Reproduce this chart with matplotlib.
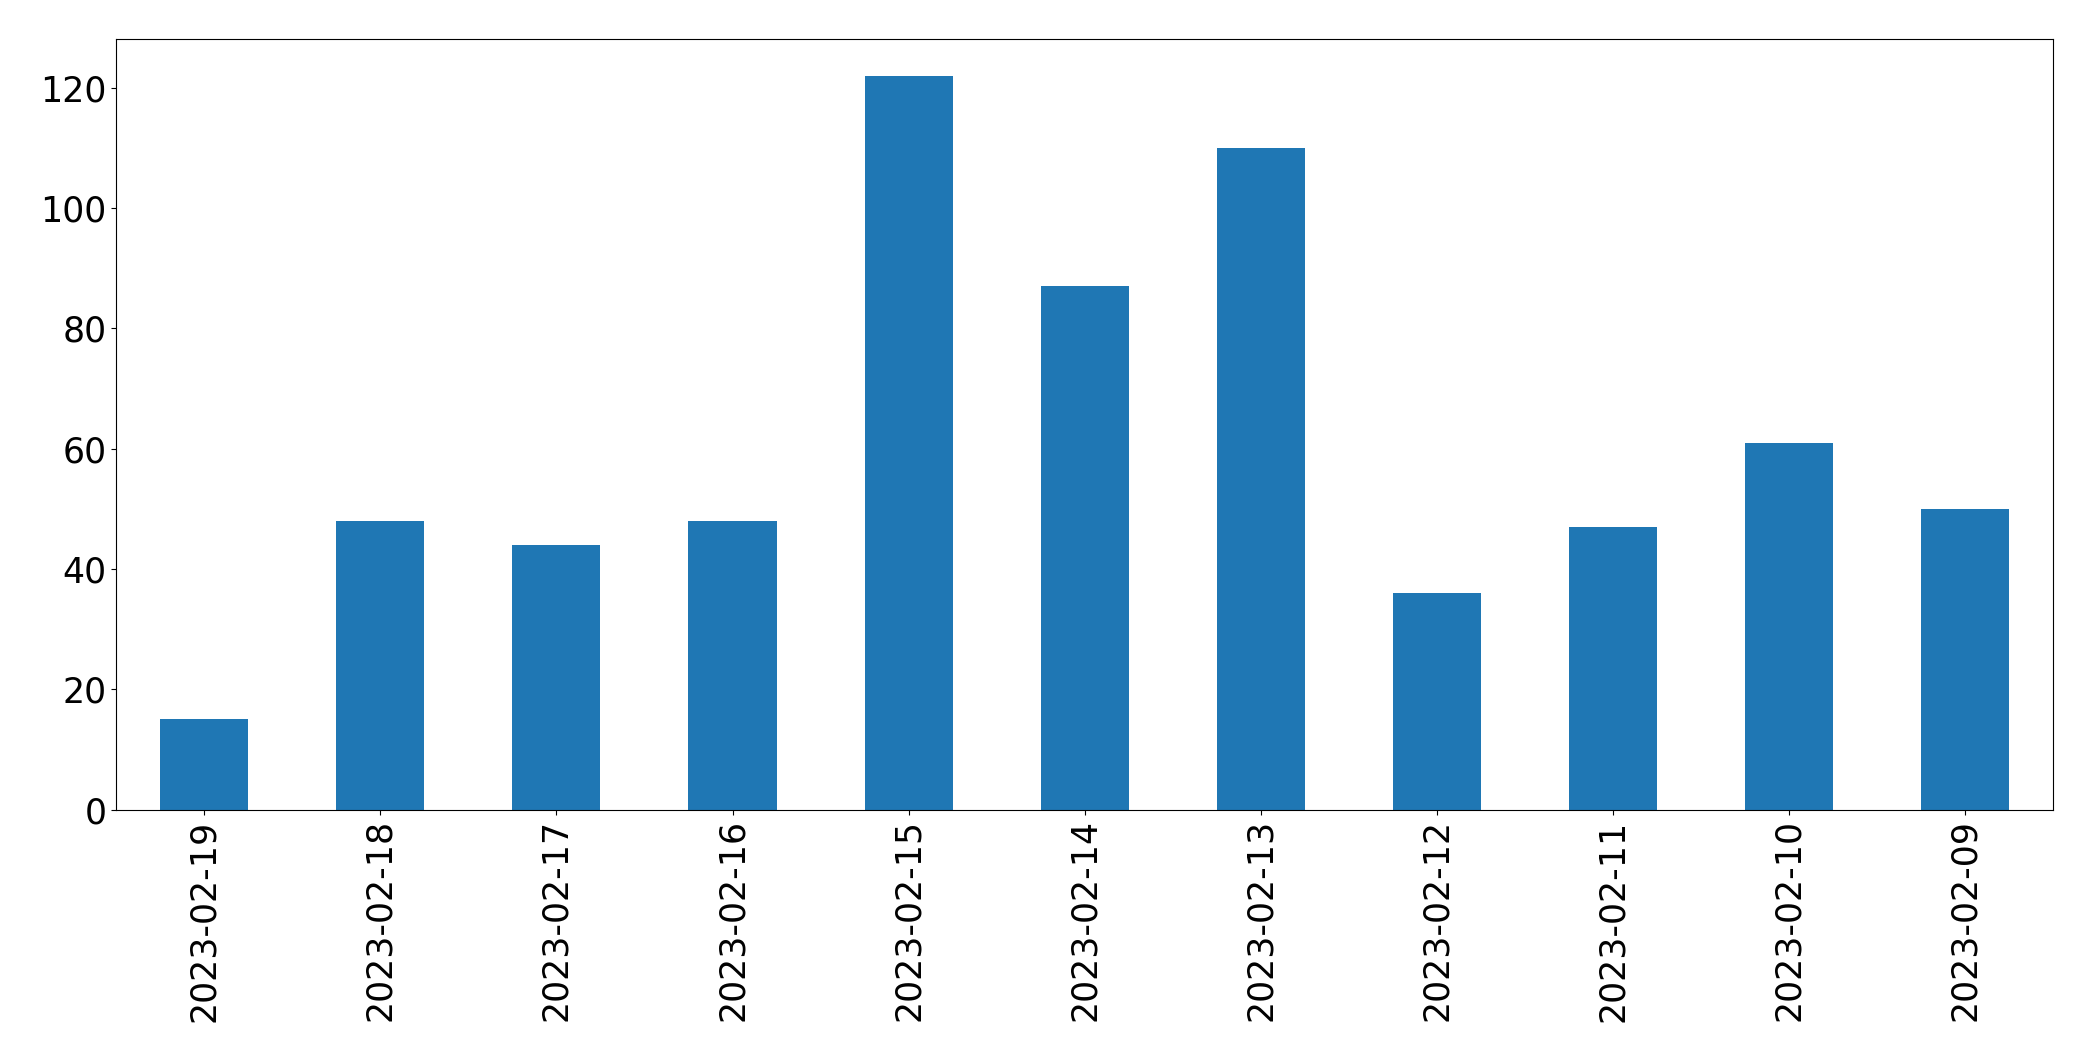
import pandas as pd
import matplotlib.pyplot as plt

dates = ['2023-02-19', '2023-02-18', '2023-02-17', '2023-02-16', '2023-02-15', '2023-02-14',
         '2023-02-13', '2023-02-12', '2023-02-11', '2023-02-10', '2023-02-09']
counts = [15, 48, 44, 48, 122, 87, 110, 36, 47, 61, 50]

s = pd.Series(counts, index=dates)

fig, ax = plt.subplots(figsize=(20.93, 10.61), dpi=100)
s.plot(kind='bar', ax=ax, color='#1f77b4')
ax.tick_params(axis='both', labelsize=25)
plt.subplots_adjust(left=0.0555, right=0.981, top=0.963, bottom=0.237)
plt.savefig('out.png', dpi=100)
